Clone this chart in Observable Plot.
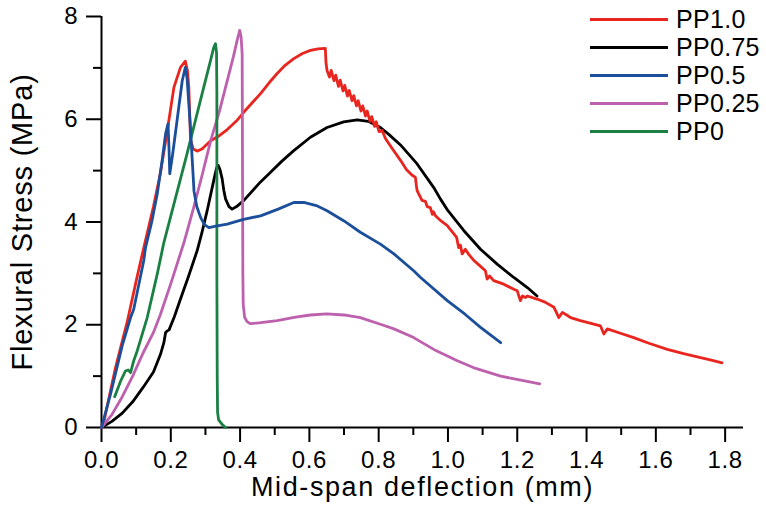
<!DOCTYPE html>
<html><head><meta charset="utf-8">
<script src="https://cdn.jsdelivr.net/npm/d3@7"></script>
<script src="https://cdn.jsdelivr.net/npm/@observablehq/plot@0.6"></script>
<style>
body{margin:0;background:#fff;}
#wrap{position:relative;width:766px;height:510px;font-family:"Liberation Sans",Arial,sans-serif;}
#legend{position:absolute;left:590px;top:5px;}
.row{display:flex;align-items:center;height:28px;}
.sw{width:78px;height:3px;margin-right:8px;}
.lab{font-size:25px;line-height:28px;color:#000;letter-spacing:0.3px;}
</style></head><body><div id="wrap"></div>
<script>
// Series names and colours (legend order)
const seriesNames = ["PP1.0", "PP0.75", "PP0.5", "PP0.25", "PP0"];
const seriesColors = ["#e8251f", "#000000", "#1b4f9b", "#bd60ae", "#1b8043"];

// Axis ticks
const xMajorTicks = [0, 0.2, 0.4, 0.6, 0.8, 1.0, 1.2, 1.4, 1.6, 1.8];
const xMinorTicks = [0.1, 0.3, 0.5, 0.7, 0.9, 1.1, 1.3, 1.5, 1.7];
const yMajorTicks = [0, 2, 4, 6, 8];
const yMinorTicks = [1, 3, 5, 7];

// [deflection (mm), stress (MPa)]
const pp10 = [[0,0],[0.007,0.12],[0.04,1.15],[0.074,2.05],[0.1,2.85],[0.122,3.5],[0.15,4.3],[0.17,4.95],[0.19,5.78],[0.209,6.62],[0.228,7.01],[0.242,7.13],[0.248,6.95],[0.252,6.62],[0.257,5.6],[0.265,5.42],[0.276,5.38],[0.29,5.42],[0.315,5.58],[0.34,5.68],[0.363,5.8],[0.39,5.97],[0.411,6.14],[0.435,6.32],[0.459,6.5],[0.485,6.72],[0.507,6.89],[0.53,7.05],[0.555,7.18],[0.58,7.28],[0.603,7.34],[0.625,7.37],[0.646,7.38],[0.648,7.1],[0.651,6.95],
[0.658,6.82],[0.663,6.95],[0.671,6.75],[0.676,6.86],[0.684,6.64],[0.689,6.76],[0.697,6.55],[0.702,6.66],[0.710,6.45],[0.715,6.56],[0.723,6.36],[0.728,6.46],[0.736,6.26],[0.741,6.36],[0.749,6.16],[0.754,6.26],[0.762,6.06],[0.767,6.16],[0.775,5.96],[0.780,6.05],[0.788,5.86],[0.793,5.95],[0.801,5.76],[0.81,5.78],
[0.82,5.62],[0.84,5.42],[0.863,5.2],[0.88,5.02],[0.895,4.92],[0.906,4.87],[0.909,4.7],[0.911,4.61],[0.925,4.42],[0.935,4.4],[0.94,4.3],[0.949,4.28],[0.955,4.15],[0.958,4.2],[0.964,4.12],[0.98,4.02],[0.998,3.93],[1.017,3.77],[1.025,3.7],[1.031,3.5],[1.036,3.55],[1.041,3.38],[1.05,3.47],[1.06,3.37],[1.075,3.25],[1.09,3.16],[1.108,3.05],[1.113,2.89],[1.12,2.95],[1.132,2.86],[1.161,2.79],[1.19,2.69],[1.2,2.66],[1.209,2.47],[1.215,2.56],[1.224,2.53],[1.229,2.56],[1.257,2.5],[1.28,2.44],[1.306,2.34],[1.32,2.14],[1.33,2.24],[1.345,2.18],[1.354,2.14],[1.382,2.08],[1.41,2.03],[1.44,1.98],[1.45,1.82],[1.46,1.92],[1.5,1.83],[1.536,1.75],[1.58,1.64],[1.633,1.52],[1.68,1.44],[1.729,1.36],[1.76,1.31],[1.791,1.26]];

const pp075 = [[0,0],[0.03,0.12],[0.06,0.28],[0.09,0.5],[0.12,0.78],[0.15,1.08],[0.17,1.42],[0.18,1.65],[0.185,1.85],[0.19,1.88],[0.195,1.9],[0.21,2.15],[0.228,2.5],[0.25,2.92],[0.276,3.44],[0.29,3.8],[0.305,4.22],[0.324,4.81],[0.332,5.05],[0.337,5.1],[0.342,5.02],[0.348,4.85],[0.353,4.62],[0.358,4.45],[0.368,4.3],[0.377,4.25],[0.39,4.3],[0.411,4.42],[0.459,4.78],[0.488,4.97],[0.52,5.18],[0.555,5.39],[0.603,5.65],[0.651,5.84],[0.699,5.95],[0.738,5.99],[0.77,5.96],[0.805,5.84],[0.83,5.7],[0.863,5.5],[0.911,5.13],[0.959,4.67],[0.978,4.45],[1.0,4.22],[1.046,3.83],[1.094,3.47],[1.142,3.18],[1.19,2.92],[1.23,2.72],[1.257,2.56]];

const pp05 = [[0,0],[0.026,0.65],[0.06,1.6],[0.084,2.14],[0.093,2.3],[0.122,3.25],[0.127,3.5],[0.145,4.0],[0.161,4.55],[0.175,5.2],[0.185,5.72],[0.192,5.91],[0.195,5.4],[0.197,4.94],[0.205,5.3],[0.218,5.97],[0.233,6.75],[0.242,7.01],[0.247,6.8],[0.252,6.3],[0.257,5.8],[0.262,5.2],[0.267,4.6],[0.275,4.3],[0.286,4.09],[0.297,3.95],[0.31,3.89],[0.33,3.92],[0.363,3.96],[0.41,4.05],[0.459,4.12],[0.51,4.25],[0.555,4.38],[0.584,4.38],[0.62,4.32],[0.651,4.22],[0.7,4.02],[0.747,3.8],[0.805,3.57],[0.844,3.38],[0.901,3.05],[0.921,2.92],[0.998,2.47],[1.05,2.2],[1.094,1.95],[1.152,1.65]];

const pp025 = [[0,0],[0.03,0.25],[0.06,0.6],[0.09,1.0],[0.12,1.45],[0.15,1.85],[0.17,2.2],[0.2,2.8],[0.238,3.6],[0.266,4.28],[0.29,4.9],[0.315,5.58],[0.34,6.15],[0.363,6.75],[0.38,7.2],[0.392,7.55],[0.399,7.73],[0.403,7.6],[0.406,7.27],[0.407,5.0],[0.408,3.0],[0.409,2.4],[0.413,2.15],[0.42,2.06],[0.43,2.02],[0.46,2.04],[0.507,2.08],[0.56,2.15],[0.603,2.19],[0.65,2.21],[0.7,2.19],[0.747,2.14],[0.805,2.01],[0.844,1.92],[0.901,1.75],[0.959,1.52],[1.027,1.3],[1.08,1.15],[1.152,1.0],[1.21,0.92],[1.265,0.85]];

const pp0 = [[0.038,0.6],[0.055,0.9],[0.069,1.1],[0.077,1.12],[0.084,1.07],[0.093,1.3],[0.103,1.49],[0.132,2.14],[0.161,2.99],[0.18,3.6],[0.199,4.09],[0.247,5.33],[0.295,6.62],[0.315,7.15],[0.324,7.4],[0.329,7.47],[0.332,7.3],[0.333,6.5],[0.333,3.0],[0.334,1.0],[0.335,0.3],[0.338,0.15],[0.348,0.06],[0.358,0.0]];

const seriesData = [pp10, pp075, pp05, pp025, pp0];
const drawOrder = [1, 0, 3, 4, 2];

const lineMarks = drawOrder.map(i => Plot.line(seriesData[i], {
  x: d => d[0], y: d => d[1], stroke: seriesColors[i], strokeWidth: 2.8,
  strokeLinejoin: "round", strokeLinecap: "round"
}));

const svg = Plot.plot({
  width: 766, height: 510,
  marginLeft: 101, marginRight: 23, marginTop: 16, marginBottom: 83,
  style: {fontFamily: "'Liberation Sans', Arial, sans-serif", fontSize: "24px", color: "#000", background: "#fff"},
  x: {domain: [0, 1.853]},
  y: {domain: [0, 8]},
  marks: [
    Plot.ruleY([0], {stroke: "#000", strokeWidth: 2}),
    Plot.ruleX([0], {stroke: "#000", strokeWidth: 2}),
    Plot.axisX({ticks: xMajorTicks, tickSize: 15, tickPadding: 8, tickFormat: d => d.toFixed(1), strokeWidth: 2, fontSize: 24,
      label: "Mid-span deflection (mm)", labelAnchor: "center", labelOffset: 68, labelArrow: "none"}),
    Plot.axisX({ticks: xMinorTicks, tickSize: 8, tickFormat: () => "", strokeWidth: 2, label: null}),
    Plot.axisY({ticks: yMajorTicks, tickSize: 15, tickPadding: 9, strokeWidth: 2, fontSize: 24,
      label: "Flexural Stress (MPa)", labelAnchor: "center", labelOffset: 90, labelArrow: "none"}),
    Plot.axisY({ticks: yMinorTicks, tickSize: 8, tickFormat: () => "", strokeWidth: 2, label: null}),
    ...lineMarks
  ]
});

const s = d3.select(svg);
s.selectAll('g[aria-label="x-axis tick label"] text').style("letter-spacing", "0.6px");
s.selectAll('g[aria-label="x-axis label"] text').style("font-size", "27px").style("letter-spacing", "1.6px");
s.selectAll('g[aria-label="y-axis label"] text').style("font-size", "29px").style("letter-spacing", "0.8px");

const wrap = document.getElementById("wrap");
wrap.appendChild(svg);

const legend = document.createElement("div");
legend.id = "legend";
seriesNames.forEach((name, i) => {
  const row = document.createElement("div");
  row.className = "row";
  const sw = document.createElement("div");
  sw.className = "sw";
  sw.style.background = seriesColors[i];
  const lab = document.createElement("span");
  lab.className = "lab";
  lab.textContent = name;
  row.appendChild(sw); row.appendChild(lab);
  legend.appendChild(row);
});
wrap.appendChild(legend);
</script></body></html>
